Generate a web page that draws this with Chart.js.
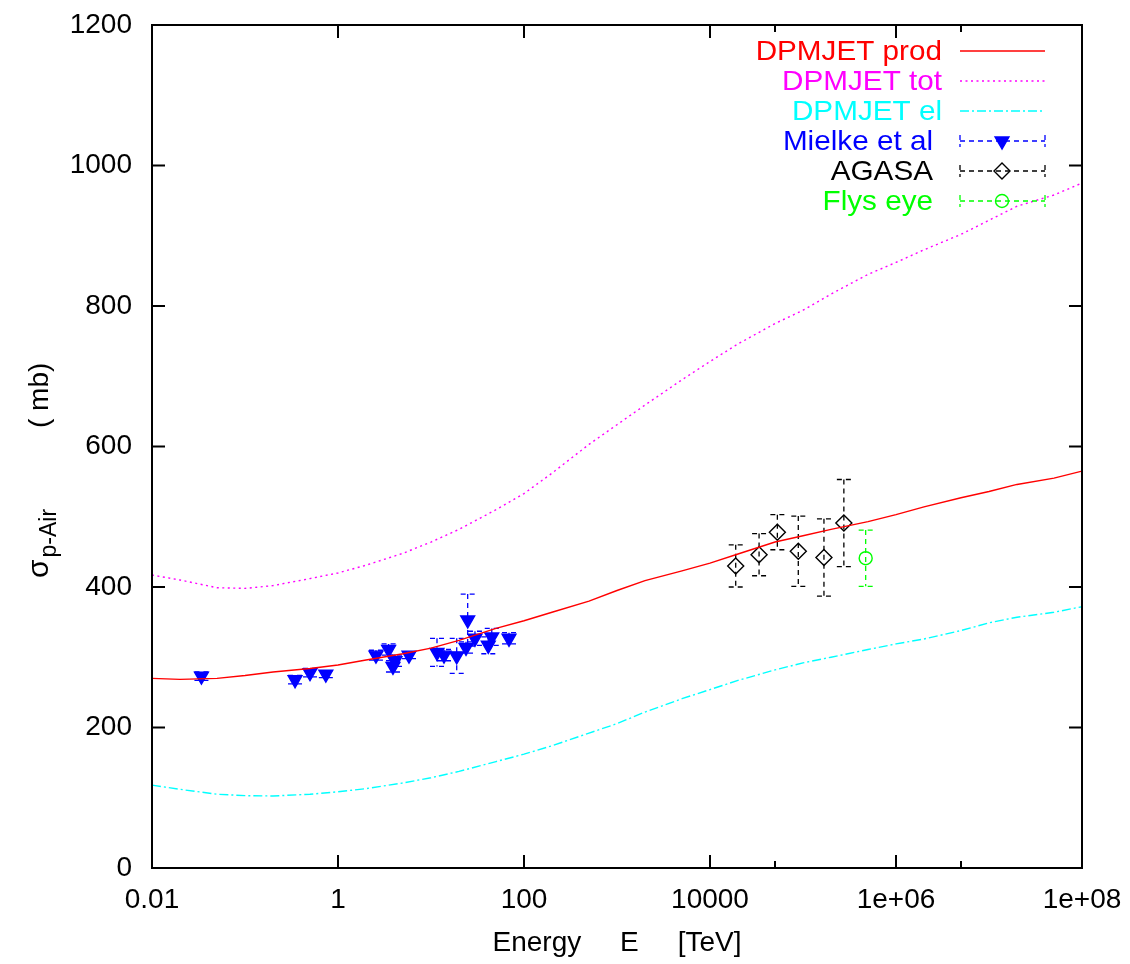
<!DOCTYPE html>
<html>
<head>
<meta charset="utf-8">
<script src="https://cdn.jsdelivr.net/npm/chart.js@4.4.0/dist/chart.umd.min.js"></script>
<style>
  html, body { margin: 0; padding: 0; background: #fff; }
  canvas { display: block; }
</style>
</head>
<body>
<canvas id="sigmaChart" width="1130" height="964"></canvas>
<script>
/* ---------- model curves (energy in TeV, cross section in mb) ---------- */
const curveEnergy = [0.01, 0.02, 0.05, 0.1, 0.2, 0.5, 1, 2, 5, 10, 20, 50, 100, 200, 500,
  1e3, 2e3, 5e3, 1e4, 2e4, 5e4, 1e5, 2e5, 5e5, 1e6, 2e6, 5e6, 1e7, 2e7, 5e7, 1e8];
const prodValues = [270, 268.5, 270, 274, 279, 284, 289, 296, 305, 313, 324, 341, 352, 364, 380,
  395, 409, 423, 434, 447, 464, 473, 482, 493, 503, 514, 527, 536, 546, 555, 565];
const totValues = [417, 410, 399, 398, 402, 412, 420, 431, 448, 464, 482, 510, 533, 562, 603,
  631, 659, 695, 721, 746, 775, 794, 817, 845, 862, 880, 902, 922, 942, 958, 975];
const elValues = [118, 112, 105, 103, 102.5, 105, 108.5, 113, 121, 128.5, 137.5, 151.5, 162, 174, 192,
  205.5, 222, 241, 254, 267, 282, 292, 300, 311, 319, 326, 338, 349, 357, 364, 372];

/* ---------- measurements ---------- */
const mielkeEnergy = [0.034, 0.345, 0.5, 0.74, 2.56, 3.5, 3.9, 4.1, 5.8, 11.6, 13.8, 18.9, 23.8, 24.8, 29.7, 41.3, 45, 69];
const mielkeValues = [273, 268, 278, 276, 303, 311, 287, 295, 303, 307, 303, 302, 314, 353, 327, 317, 329, 327];
const mielkeErrors = [6, 6, 6, 5, 7, 8, 8, 8, 5, 20, 8, 25, 8, 37, 10, 12, 12, 8];

const agasaEnergy = [1.89e4, 3.37e4, 5.3e4, 8.9e4, 1.68e5, 2.75e5];
const agasaValues = [430, 446, 478, 451, 442, 491];
const agasaErrors = [30, 30, 25, 50, 55, 62];

const flysEnergy = [4.72e5];
const flysValues = [441];
const flysErrors = [40];

/* ---------- axes ---------- */
const xTickValues = [0.01, 1, 100, 1e4, 1e6, 1e8];
const xTickLabels = ["0.01", "1", "100", "10000", "1e+06", "1e+08"];
const xMinorTicks = [5e4, 5e6];
const yTickValues = [0, 200, 400, 600, 800, 1000, 1200];

const FONT = '"Liberation Sans", Arial, Helvetica, sans-serif';
Chart.defaults.font.family = FONT;
Chart.defaults.color = "#000";

const toPoints = (xs, ys) => xs.map((x, i) => ({ x: x, y: ys[i] }));

/* ---------- series styles ---------- */
const series = [
  { label: "DPMJET prod", color: "#ff0000", dash: [] },
  { label: "DPMJET tot", color: "#ff00ff", dash: [2, 3.5] },
  { label: "DPMJET el", color: "#00ffff", dash: [9, 3, 2, 3] },
  { label: "Mielke et al", color: "#0000ff", marker: "triangle", radius: 8, rotation: 180, filled: true, right: 933 },
  { label: "AGASA", color: "#000000", marker: "rectRot", radius: 8, rotation: 0, filled: false, right: 933 },
  { label: "Flys eye", color: "#00ff00", marker: "circle", radius: 6.5, rotation: 0, filled: false, right: 933 }
];

const lineSet = (s, ys) => ({
  label: s.label,
  data: toPoints(curveEnergy, ys),
  showLine: true,
  borderColor: s.color,
  borderWidth: 1.4,
  borderDash: s.dash,
  pointRadius: 0,
  tension: 0,
  fill: false
});

const pointSet = (s, xs, ys, errs) => ({
  label: s.label,
  data: toPoints(xs, ys),
  errorBars: errs,
  showLine: false,
  borderColor: s.color,
  backgroundColor: s.filled ? s.color : "rgba(0,0,0,0)",
  pointStyle: s.marker,
  pointRadius: s.radius,
  pointRotation: s.rotation,
  pointBorderWidth: 1.4
});

/* ---------- error bars (dashed, with caps) ---------- */
const errorBarPlugin = {
  id: "errorBars",
  beforeDatasetsDraw(chart) {
    const { ctx, scales: { x, y } } = chart;
    chart.data.datasets.forEach((ds) => {
      if (!ds.errorBars) return;
      ctx.save();
      ctx.strokeStyle = ds.borderColor;
      ctx.lineWidth = 1.3;
      ctx.setLineDash([5, 4]);
      ds.data.forEach((p, i) => {
        const e = ds.errorBars[i];
        const px = x.getPixelForValue(p.x);
        const top = y.getPixelForValue(p.y + e);
        const bot = y.getPixelForValue(p.y - e);
        ctx.beginPath();
        ctx.moveTo(px, top); ctx.lineTo(px, bot);
        ctx.moveTo(px - 7, top); ctx.lineTo(px + 7, top);
        ctx.moveTo(px - 7, bot); ctx.lineTo(px + 7, bot);
        ctx.stroke();
      });
      ctx.restore();
    });
  }
};

/* ---------- border box with inward tics ---------- */
const framePlugin = {
  id: "frame",
  afterDraw(chart) {
    const { ctx, chartArea: a, scales: { x, y } } = chart;
    ctx.save();
    ctx.strokeStyle = "#000";
    ctx.lineWidth = 2;
    ctx.setLineDash([]);
    ctx.strokeRect(a.left, a.top, a.right - a.left, a.bottom - a.top);
    ctx.beginPath();
    const tic = (px, len) => {
      ctx.moveTo(px, a.bottom); ctx.lineTo(px, a.bottom - len);
      ctx.moveTo(px, a.top); ctx.lineTo(px, a.top + len);
    };
    xTickValues.forEach((v) => tic(x.getPixelForValue(v), 13));
    xMinorTicks.forEach((v) => tic(x.getPixelForValue(v), 7));
    yTickValues.forEach((v) => {
      const py = y.getPixelForValue(v);
      ctx.moveTo(a.left, py); ctx.lineTo(a.left + 13, py);
      ctx.moveTo(a.right, py); ctx.lineTo(a.right - 13, py);
    });
    ctx.stroke();
    ctx.restore();
  }
};

/* ---------- axis titles ---------- */
const titlePlugin = {
  id: "axisTitles",
  afterDraw(chart) {
    const { ctx, chartArea: a } = chart;
    ctx.save();
    ctx.fillStyle = "#000";
    ctx.font = "28px " + FONT;
    ctx.textAlign = "center";
    ctx.textBaseline = "middle";
    ctx.fillText("Energy     E     [TeV]", (a.left + a.right) / 2, a.bottom + 75);

    // rotated y title with subscript
    ctx.translate(48, 578);
    ctx.rotate(-Math.PI / 2);
    ctx.textAlign = "left";
    ctx.textBaseline = "alphabetic";
    ctx.font = "30px " + FONT;
    ctx.fillText("σ", 0, 0);
    const w = ctx.measureText("σ").width + 2;
    ctx.font = "23px " + FONT;
    ctx.fillText("p-Air", w, 8);
    ctx.font = "28px " + FONT;
    ctx.fillText("( mb)", 150, 0);
    ctx.restore();
  }
};

/* ---------- key in the upper right ---------- */
const keyPlugin = {
  id: "key",
  afterDraw(chart) {
    const { ctx } = chart;
    const x0 = 960, x1 = 1045, xm = 1002;
    ctx.save();
    ctx.font = "28px " + FONT;
    ctx.textAlign = "right";
    ctx.textBaseline = "middle";
    series.forEach((s, i) => {
      const yy = 51 + i * 30;
      ctx.fillStyle = s.color;
      ctx.save();
      ctx.translate(s.right || 942, yy + 1);
      ctx.scale(1.06, 1);
      ctx.fillText(s.label, 0, 0);
      ctx.restore();
      ctx.strokeStyle = s.color;
      ctx.lineWidth = 1.3;
      if (!s.marker) {
        ctx.setLineDash(s.dash);
        ctx.beginPath();
        ctx.moveTo(x0, yy); ctx.lineTo(x1, yy);
        ctx.stroke();
      } else {
        ctx.setLineDash([5, 4]);
        ctx.beginPath();
        ctx.moveTo(x0, yy); ctx.lineTo(x1, yy);
        ctx.moveTo(x0, yy - 6); ctx.lineTo(x0, yy + 6);
        ctx.moveTo(x1, yy - 6); ctx.lineTo(x1, yy + 6);
        ctx.stroke();
        ctx.setLineDash([]);
        ctx.fillStyle = s.filled ? s.color : "rgba(0,0,0,0)";
        ctx.lineWidth = 1.4;
        Chart.helpers.drawPoint(ctx, { pointStyle: s.marker, radius: s.radius, rotation: s.rotation, borderWidth: 1.4 }, xm, yy);
      }
    });
    ctx.restore();
  }
};

new Chart(document.getElementById("sigmaChart"), {
  type: "scatter",
  data: {
    datasets: [
      lineSet(series[0], prodValues),
      lineSet(series[1], totValues),
      lineSet(series[2], elValues),
      pointSet(series[3], mielkeEnergy, mielkeValues, mielkeErrors),
      pointSet(series[4], agasaEnergy, agasaValues, agasaErrors),
      pointSet(series[5], flysEnergy, flysValues, flysErrors)
    ]
  },
  options: {
    responsive: false,
    animation: false,
    devicePixelRatio: 1,
    layout: { padding: { top: 25, right: 48, left: 0, bottom: 0 } },
    plugins: { legend: { display: false }, tooltip: { enabled: false } },
    scales: {
      x: {
        type: "logarithmic",
        min: 0.01,
        max: 1e8,
        grid: { display: false, drawTicks: false },
        border: { display: false },
        afterBuildTicks: (scale) => { scale.ticks = xTickValues.map((v) => ({ value: v })); },
        afterFit: (scale) => { scale.height = 96; scale.paddingLeft = 0; scale.paddingRight = 0; },
        ticks: {
          autoSkip: false,
          maxRotation: 0,
          padding: 15,
          font: { size: 28 },
          color: "#000",
          callback: (v, i) => xTickLabels[i]
        }
      },
      y: {
        min: 0,
        max: 1200,
        grid: { display: false, drawTicks: false },
        border: { display: false },
        afterBuildTicks: (scale) => { scale.ticks = yTickValues.map((v) => ({ value: v })); },
        afterFit: (scale) => { scale.width = 152; scale.paddingTop = 0; scale.paddingBottom = 0; },
        ticks: {
          padding: 20,
          font: { size: 28 },
          color: "#000",
          callback: (v) => String(v)
        }
      }
    }
  },
  plugins: [errorBarPlugin, framePlugin, titlePlugin, keyPlugin]
});
</script>
</body>
</html>
